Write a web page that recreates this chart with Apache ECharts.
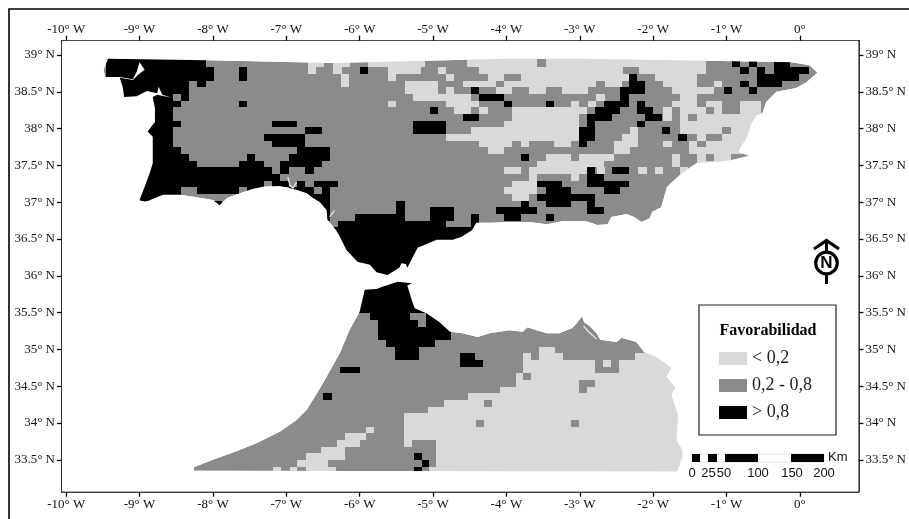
<!DOCTYPE html>
<html><head><meta charset="utf-8">
<style>html,body{margin:0;padding:0;background:#fff}#c{width:909px;height:519px}</style>
<script src="https://cdn.jsdelivr.net/npm/echarts@6/dist/echarts.min.js"></script>
</head><body><div id="c"></div>
<script>
const lonTicks=[-10,-9,-8,-7,-6,-5,-4,-3,-2,-1,0];
const latTicks=[33.5,34,34.5,35,35.5,36,36.5,37,37.5,38,38.5,39];
const classNames=['< 0,2','0,2 - 0,8','> 0,8'];
const classColors=['#d9d9d9','#8b8b8b','#000000'];
// 10 km cells: rows are [row, from, to, from, to, ...] in cell indices
const iberiaBlack=[
[-1,-8,4],[0,-8,4,67.5,68.5,69.5,70.5,72.5,74.5],
[1,-8,5,8,9,22.6,23.6,68.5,69.5,70.5,71.5,72.5,76.8],
[2,-8,5,8,9,55,56,70.5,75.5],
[3,-8,2,3,4,55,57,68.5,69.5,70.5,73.5],
[4,-8,2,36,37,54,57,66.5,67.5,69.5,70.5],
[5,-8,0,1,2,37,40,54,55],
[6,-8,1,8,9,40,41,45,46,52,55,56,57],
[7,-8,0,31,32,51,54,56,58],
[8,-8,0,35,37,50,53,57,59],
[9,-8,1,12,15,29,33,50,51,56,57],
[10,-8,0,16,18,29,33,49,51,59,60],
[11,-8,0,11,16,49,51,61,62],
[12,-8,0,12,16,49,50],
[13,-8,1,15,19],
[14,-8,2,9,10,14,19,42,43],
[15,-8,3,8,11,13,18],
[16,-8,12,13,14,16,17,50,51,53,55],
[17,-8,13,50,52],
[18,-8,11,12,14,15,16,17,20,44,47,50,55],
[19,-8,1,3,8,9,11,14,17,18,19,45,48,52,54],
[20,-8,1,14,19,44,51],
[21,5,6,15,19,27,28,42,43,45,48,50,51],
[22,16,19,27,28,31,34,39,44,50,52],
[23,18,19,22,28,31,34,36,37,40,42,45,46],
[24,20,33,36,37],
[25,19,40],[26,19,40],[27,19,40],[28,19,40],[29,19,40],[30,19,40],[31,19,40],[32,19,40],[33,19,40]
];
const iberiaLight=[
[-1,16.3,18.3,19.4,21.4,23.6,30.5,35.5,44,45,64.3],
[0,16.3,18.3,19.4,21.4,23.6,30.5,35.5,44,45,64.3],
[1,16.3,17.3,19.4,20.4,26,30,32,33,37,54.3,56.3,64.3],
[2,20.3,21.3,26,27,33,34,38,40,42,55,58.2,63.3],
[3,20.3,21.3,28,32,35,39,40,51.1,52.1,54.2,59.2,63.3,65.3,66.3],
[4,28,32,33,34,39,41,43,45,47,50.1,60.2,65.3],
[5,29,36,51.1,52.1,61.2,63.3],
[6,26,27,33,37,48,49,50.1,51.1,60.2,63.3,64.3,66.3,68.4,71],
[7,34,36,37,38,41,50,59.2,60.2,61.2,64.3,65.3,66.3,68.4,71],
[8,41,49,59.2,60.2,61.2,62.2,63.2,71],
[9,40,49,61.2,71],
[10,36,49,55.2,56.2,61.2,66.3,67.3,71],
[11,33,49,54.2,56.2,63.3,64.3,66.3,71],
[12,37,41,42,43,46,48,53.2,56.2,59.2,60.2,62.3,63.3,64.3,71],
[13,38,40,53.2,55.2,62.3,71],
[14,45,48,49,53.2,60.2,61.2,63.3,64.3,65.3,67.3],
[15,44,52,60.2,61.2,63.3,66],
[16,40,42,43,50,51.2,52.2,56.2,57.2,58.2,59.2,61.2,62.2],
[17,43,44,48,49],
[18,41,44],[19,40,44],[20,41,43]
];
const moroccoBlack=[
[-6,1,16],[-5,1,16],[-4,1,16],[-3,1,16],[-2,1,16],[-1,1,16],
[0,3.75,8.75,10.8,16],[1,4.8,9.8,10.8,16],[2,4.8,13.9],[3,4.8,13.9],[4,5.8,11.9],
[5,6.9,9.9],[6,6.9,9.9,15,16.9],[7,15,17.9],[8,0,2.5],[12,-2.1,-1],
[21,9.25,10.25],[22,10.3,11.2],[23,9.3,10.3]
];
const moroccoLight=[
[5,25,27],[6,23,24,25,28,37,50],[7,23,32,33,34,35,50],[8,23,32,35,50],
[9,22.1,23,24,50],[10,22.1,30,32,50],[11,20,30,31,50],[12,16,50],
[13,13.1,18,19,50],[14,11,50],[15,8.1,50],[16,8.1,17.1,18.1,29,30,50],
[17,3.25,4.25,8.1,50],[18,0.7,3.25,8.1,50],[19,-0.3,2.5,8.1,9.1,12,50],
[20,-2.3,0.7,12,50],[21,-4.25,0.7,12,50],[22,-5.3,-1.4,12,50],
[23,-8.3,-7.3,-6.25,-5.3,-4.25,-0.4,11.2,50]
];
// coast outlines as [lon, lat]
const iberiaCoast=[[-9.43,38.95],[-9.49,38.8],[-9.47,38.7],[-9.36,38.7],[-9.27,38.7],[-9.09,38.67],[-9.04,38.77],[-9,38.9],[-8.93,38.8],[-9.02,38.73],[-9.09,38.66],[-9.27,38.69],[-9.23,38.57],[-9.21,38.43],[-9.04,38.44],[-8.9,38.51],[-8.76,38.48],[-8.74,38.57],[-8.69,38.46],[-8.56,38.42],[-8.76,38.46],[-8.82,38.43],[-8.79,38.28],[-8.79,38.09],[-8.89,37.96],[-8.82,37.89],[-8.82,37.74],[-8.82,37.53],[-8.86,37.4],[-8.93,37.21],[-9,37.03],[-8.93,37],[-8.68,37.1],[-8.45,37.1],[-8.18,37.06],[-8,37.03],[-7.91,36.96],[-7.8,37.06],[-7.63,37.12],[-7.46,37.18],[-7.32,37.21],[-7.09,37.22],[-6.95,37.19],[-6.86,37.17],[-6.72,37.12],[-6.64,37.06],[-6.54,37],[-6.45,36.89],[-6.44,36.76],[-6.32,36.62],[-6.27,36.53],[-6.18,36.35],[-6.03,36.19],[-5.86,36.15],[-5.77,36.05],[-5.62,36.01],[-5.46,36.11],[-5.43,36.17],[-5.37,36.16],[-5.35,36.11],[-5.21,36.38],[-4.95,36.49],[-4.73,36.49],[-4.61,36.53],[-4.47,36.62],[-4.41,36.72],[-4.19,36.72],[-4,36.73],[-3.69,36.73],[-3.45,36.7],[-3.24,36.74],[-2.91,36.74],[-2.76,36.69],[-2.62,36.7],[-2.57,36.8],[-2.36,36.84],[-2.26,36.8],[-2.16,36.73],[-2.05,36.78],[-2.01,36.87],[-1.89,36.93],[-1.81,37.21],[-1.68,37.33],[-1.6,37.4],[-1.41,37.53],[-1.1,37.55],[-0.94,37.57],[-0.69,37.63],[-0.83,37.68],[-0.83,37.71],[-0.73,37.87],[-0.65,38.09],[-0.59,38.18],[-0.51,38.21],[-0.46,38.36],[-0.32,38.5],[-0.05,38.55],[0.09,38.63],[0.24,38.76],[0.13,38.86],[-0.11,38.9],[-1.28,38.92],[-3,38.95],[-4.05,38.95],[-5.09,38.92],[-6.37,38.89],[-8.07,38.93]];
const moroccoCoast=[[-8.26,33.35],[-8.26,33.4],[-8,33.5],[-7.67,33.62],[-7.4,33.73],[-7.09,33.88],[-6.86,34.04],[-6.72,34.18],[-6.5,34.54],[-6.27,34.95],[-6.14,35.26],[-6,35.51],[-5.93,35.81],[-5.77,35.82],[-5.69,35.85],[-5.48,35.92],[-5.29,35.9],[-5.35,35.87],[-5.29,35.67],[-5.25,35.56],[-5.09,35.49],[-4.91,35.37],[-4.77,35.24],[-4.6,35.22],[-4.39,35.17],[-4.23,35.22],[-3.96,35.26],[-3.78,35.24],[-3.71,35.3],[-3.59,35.26],[-3.45,35.22],[-3.28,35.22],[-3.1,35.29],[-3.03,35.37],[-2.97,35.45],[-2.94,35.37],[-2.87,35.32],[-2.77,35.22],[-2.72,35.13],[-2.5,35.1],[-2.43,35.16],[-2.23,35.1],[-2.12,34.96],[-1.96,34.9],[-1.75,34.75],[-1.82,34.63],[-1.7,34.49],[-1.75,34.38],[-1.66,34.11],[-1.68,33.77],[-1.6,33.63],[-1.6,33.54],[-1.67,33.34]];
const waterLines=[
 [[-2.95,35.32],[-2.88,35.24],[-2.77,35.14]],
 [[-6.98,37.34],[-6.95,37.23],[-6.91,37.19],[-6.86,37.27]],
 [[-6.41,36.8],[-6.34,36.89]]
];
// cell index -> degrees
const iberiaGrid={lon0:-8.55,dLon:0.113,lat0:38.9226,dLat:0.09063};
const moroccoGrid={lon0:-6.2723,dLon:0.10892,lat0:35.4905,dLat:0.09063};
const LON_MIN=-10.057,LON_MAX=0.798,LAT_MIN=33.067,LAT_MAX=39.194;

function expand(rows,g){const out=[];rows.forEach(r=>{for(let i=1;i<r.length;i+=2)out.push([g,r[0],r[i],r[i+1]]);});return out;}
const grids=[iberiaGrid,moroccoGrid];
function cellItem(params,api){
  const g=grids[api.value(0)],k=api.value(1),a=api.value(2),b=api.value(3);
  const p0=api.coord([g.lon0+g.dLon*a,g.lat0-g.dLat*k]);
  const p1=api.coord([g.lon0+g.dLon*b,g.lat0-g.dLat*(k+1)]);
  const x=Math.round(p0[0]),y=Math.round(p0[1]);
  return {type:'rect',shape:{x,y,width:Math.round(p1[0])-x,height:Math.round(p1[1])-y},style:{fill:api.visual('color')}};
}
const rings=[iberiaCoast,moroccoCoast];
function landItem(params,api){
  return {type:'polygon',shape:{points:rings[params.dataIndex].map(p=>api.coord(p))},style:{fill:api.visual('color')}};
}
function signedArea(pts){let s=0;for(let i=0;i<pts.length;i++){const a=pts[i],b=pts[(i+1)%pts.length];s+=a[0]*b[1]-b[0]*a[1];}return s;}
function seaItem(params,api){
  // plot rectangle with both land outlines cut out
  const TL=api.coord([LON_MIN,LAT_MAX]),TR=api.coord([LON_MAX,LAT_MAX]),BR=api.coord([LON_MAX,LAT_MIN]),BL=api.coord([LON_MIN,LAT_MIN]);
  const hole=r=>{let p=r.map(c=>api.coord(c));if(signedArea(p)>0)p=p.reverse();return p;};
  const a=hole(iberiaCoast),b=hole(moroccoCoast);
  // start each hole from its point nearest the slit corner
  const rot=(p,c)=>{let bi=0,bd=1e12;p.forEach((q,i)=>{const d=(q[0]-c[0])**2+(q[1]-c[1])**2;if(d<bd){bd=d;bi=i;}});return p.slice(bi).concat(p.slice(0,bi));};
  const ra=rot(a,TL),rb=rot(b,BL);
  const pts=[TL,TR,BR,BL].concat(rb,[rb[0],BL,TL],ra,[ra[0]]);
  return {type:'polygon',shape:{points:pts},style:{fill:'#fff'}};
}
function waterItem(params,api){
  return {type:'polyline',shape:{points:waterLines[params.dataIndex].map(p=>api.coord(p))},style:{fill:null,stroke:'#ececec',lineWidth:1.2}};
}
const serif='"Liberation Serif","Times New Roman",serif';
const sans='"Liberation Sans",Arial,sans-serif';
const lonLabel=v=>v<0?(v+'° W'):(v+'°');
const latLabel=v=>v+'° N';
function xAx(pos,margin){return {type:'value',position:pos,min:LON_MIN,max:LON_MAX,splitLine:{show:false},
  axisLine:{show:true,onZero:false,lineStyle:{color:'#000',width:1.6}},
  axisTick:{show:true,length:5,customValues:lonTicks,lineStyle:{color:'#000',width:1.3}},
  axisLabel:{customValues:lonTicks,formatter:lonLabel,color:'#111',fontFamily:serif,fontSize:13,margin}};}
function yAx(pos,margin){return {type:'value',position:pos,min:LAT_MIN,max:LAT_MAX,splitLine:{show:false},
  axisLine:{show:true,onZero:false,lineStyle:{color:'#000',width:1.6}},
  axisTick:{show:true,length:5,customValues:latTicks,lineStyle:{color:'#000',width:1.3}},
  axisLabel:{customValues:latTicks,formatter:latLabel,color:'#111',fontFamily:serif,fontSize:13,margin}};}
function cust(name,color,z,data,renderItem){return {type:'custom',name,z,silent:true,animation:false,clip:true,
  itemStyle:{color},data,renderItem,encode:{x:0,y:1}};}
const scaleSegs=[[692,700],[708,717],[725,758],[791,824]];
const scaleLabels=[['0',692],['25',708.5],['50',724],['100',758],['150',792],['200',824]];
const chart=echarts.init(document.getElementById('c'),null,{renderer:'canvas'});
chart.setOption({
  animation:false,backgroundColor:'#fff',
  grid:{left:62,right:49.7,top:40.7,bottom:27.3,containLabel:false},
  xAxis:[xAx('bottom',6),xAx('top',5)],
  yAxis:[yAx('left',7),yAx('right',7)],
  legend:{show:true,orient:'vertical',left:719,top:349,padding:0,itemWidth:28,itemHeight:13,itemGap:8,icon:'rect',selectedMode:false,z:20,
    data:classNames,textStyle:{fontFamily:serif,fontSize:18,color:'#222',lineHeight:19,padding:[0,0,0,0]}},
  series:[
    cust(classNames[1],classColors[1],1,[[0,0],[1,0]],landItem),
    cust(classNames[0],classColors[0],2,expand(iberiaLight,0).concat(expand(moroccoLight,1)),cellItem),
    cust(classNames[2],classColors[2],3,expand(iberiaBlack,0).concat(expand(moroccoBlack,1)),cellItem),
    cust('Mar','#ffffff',4,[[0,0]],seaItem),
    cust('Agua','#ffffff',5,[[0,0],[1,0],[2,0]],waterItem)
  ],
  graphic:[
    {type:'polyline',z:10,silent:true,shape:{points:[[9,519],[9,9],[909,9]]},style:{fill:null,stroke:'#000',lineWidth:1.6}},
    {type:'rect',z:10,silent:true,shape:{x:699,y:305,width:137,height:130},style:{fill:'#fff',stroke:'#222',lineWidth:1.2}},
    {type:'text',z:11,silent:true,x:768,y:331,style:{text:'Favorabilidad',font:'bold 16px '+serif,fill:'#000',textAlign:'center',textVerticalAlign:'middle'}},
    ...scaleSegs.map(s=>({type:'rect',z:11,silent:true,shape:{x:s[0],y:454,width:s[1]-s[0],height:8},style:{fill:'#000'}})),
    {type:'rect',z:10,silent:true,shape:{x:692,y:454,width:132,height:8},style:{fill:'#fff',stroke:'#e4e4e4',lineWidth:1}},
    {type:'text',z:11,silent:true,x:828,y:457,style:{text:'Km',font:'13px '+sans,fill:'#111',textAlign:'left',textVerticalAlign:'middle'}},
    ...scaleLabels.map(l=>({type:'text',z:11,silent:true,x:l[1],y:473,style:{text:l[0],font:'13px '+sans,fill:'#111',textAlign:'center',textVerticalAlign:'middle'}})),
    {type:'polyline',z:11,silent:true,shape:{points:[[814,249],[826.5,240.5],[839,249]]},style:{fill:null,stroke:'#000',lineWidth:3.2}},
    {type:'line',z:11,silent:true,shape:{x1:826.5,y1:241,x2:826.5,y2:284},style:{stroke:'#000',lineWidth:3}},
    {type:'circle',z:12,silent:true,shape:{cx:826.5,cy:263,r:10.8},style:{fill:'#fff',stroke:'#000',lineWidth:3.2}},
    {type:'text',z:13,silent:true,x:826.5,y:263.5,style:{text:'N',font:'bold 17px '+sans,fill:'#000',textAlign:'center',textVerticalAlign:'middle'}}
  ]
});
</script></body></html>
